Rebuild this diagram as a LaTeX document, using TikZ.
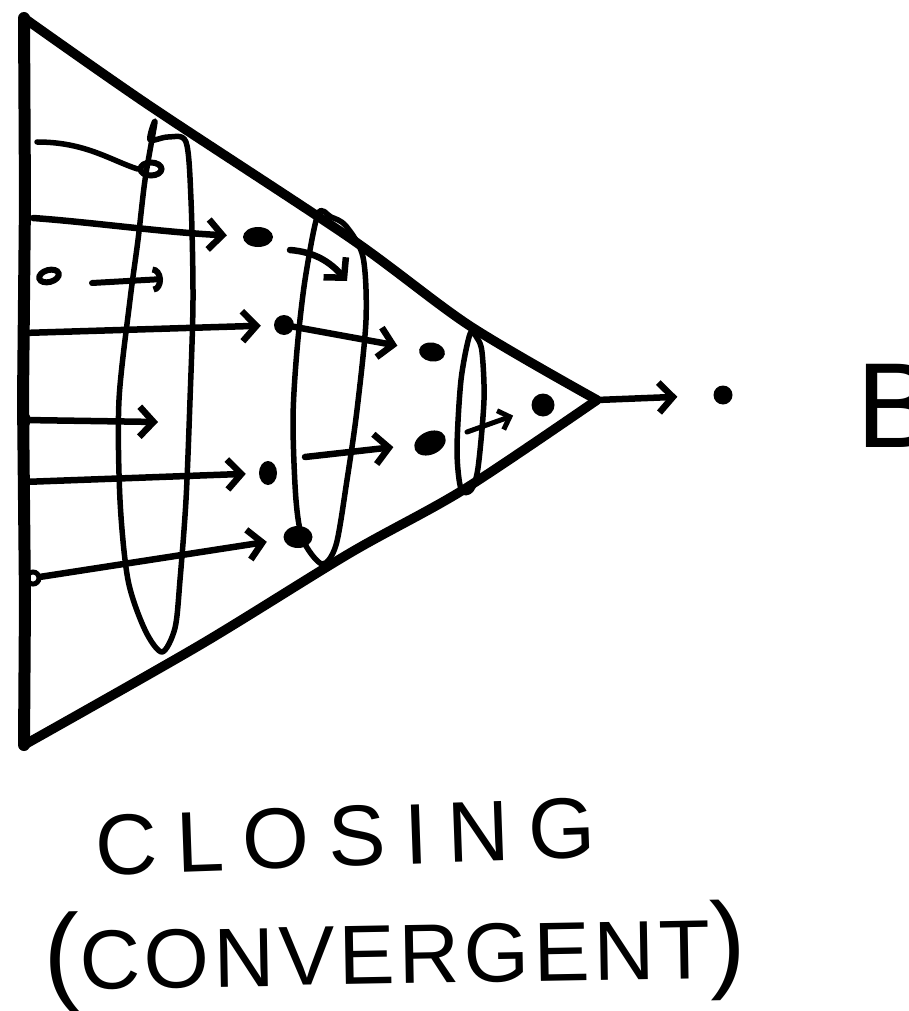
\documentclass[tikz,border=0pt]{standalone}
\usepackage{fontspec}
\setmainfont{Liberation Sans}
\newfontfamily\handwide[LetterSpace=22]{Liberation Sans}
\newfontfamily\handnarrow[LetterSpace=5]{Liberation Sans}
\usetikzlibrary{arrows.meta,shapes.geometric}
\begin{document}
\begin{tikzpicture}[x=1pt,y=-1pt,
  edge/.style={line width=9.5pt, line cap=round, line join=round},
  loopline/.style={line width=5.5pt, line join=round},
  arr/.style={line width=6.5pt, line cap=round, -{Straight Barb[length=14pt,width=30pt,line width=6.5pt]}},
  arrarc/.style={line width=6pt, line cap=round, -{Arc Barb[length=10pt,width=26pt,line width=6pt]}},
  arrsmall/.style={line width=5pt, line cap=round, -{Straight Barb[length=10pt,width=20pt,line width=5pt]}},
  dot/.style={fill, ellipse, inner sep=0pt},
  ring/.style={draw, ellipse, inner sep=0pt, line width=6pt},
  lbl/.style={inner sep=0pt, anchor=base west}]
\useasboundingbox (0,0) rectangle (908,1011);
\clip (0,0) rectangle (908,1011);
% triangle
\coordinate (TL) at (24,18);
\coordinate (BL) at (24,745);
\coordinate (A) at (597,400);
\draw[edge, line width=12pt] (TL) -- (25,200) -- (23,400) -- (25,600) -- (BL);
\draw[edge] plot[smooth] coordinates {(24,18) (150,106) (350,238) (470,326) (597,400)};
\draw[edge] plot[smooth] coordinates {(597,400) (463,490) (350,553) (200,645) (24,745)};
% loops
\draw[loopline] plot[smooth cycle] coordinates {(155,122) (145,180) (138,240) (130,300) (119,400) (120,500) (128,580) (145,630) (162,652) (175,628) (180,580) (186,500) (190,400) (193,300) (191,200) (186,142) (168,137) (150,140)};
\draw[loopline] plot[smooth cycle] coordinates {(318,214) (305,280) (297,350) (293,420) (296,500) (303,540) (322,564) (336,545) (347,480) (357,410) (366,320) (363,257) (346,226) (331,217)};
\draw[loopline] plot[smooth cycle] coordinates {(470,334) (461,380) (457,450) (461,489) (471,490) (478,468) (484,400) (482,352) (477,338)};
% dots
\node[dot, minimum width=30pt, minimum height=20pt] (d1) at (258,237) {};
\node[dot, minimum width=20pt, minimum height=20pt] (d2) at (284,325) {};
\node[dot, minimum width=26pt, minimum height=19pt, rotate=-10] (d3) at (432,352) {};
\node[dot, minimum width=18pt, minimum height=24pt] (d4) at (268,473) {};
\node[dot, minimum width=33pt, minimum height=23pt, rotate=25] (d5) at (430,443) {};
\node[dot, minimum width=29pt, minimum height=22pt] (d6) at (298,537) {};
\node[dot, minimum width=23pt, minimum height=23pt] (d7) at (543,405) {};
\node[dot, minimum width=19pt, minimum height=19pt] (d8) at (723,395) {};
\node[ring, minimum width=21pt, minimum height=13pt] (r1) at (151,169) {};
\node[ring, minimum width=20pt, minimum height=12pt, rotate=15] (l3) at (49,276) {};
\node[dot, minimum width=14pt, minimum height=16pt] (l6) at (24,420) {};
\node[ring, minimum width=12pt, minimum height=12pt, line width=5pt] (l8) at (33,578) {};
% coordinates
\coordinate (s1) at (37,142);
\coordinate (s2) at (33,218);
\coordinate (s3) at (92,283);
\coordinate (e3) at (163,279);
\coordinate (s4) at (290,250);
\coordinate (e4) at (347,281);
\coordinate (s5) at (23,333);
\coordinate (e6) at (158,422);
\coordinate (s7) at (23,482);
\coordinate (s7b) at (305,457);
\coordinate (s9) at (467,432);
% arrows
\draw[line width=5.5pt, line cap=round] (s1) .. controls (85,142) and (110,160) .. (r1.west);
\draw[arr, shorten >=16pt] (s2) .. controls (90,222) and (160,232) .. (d1);
\draw[arrarc] (s3) -- (e3);
\draw[arr] (s4) .. controls (315,252) and (330,262) .. (e4);
\draw[arr, shorten >=13pt] (s5) -- (d2);
\draw[arr, shorten >=22pt] (d2) -- (d3);
\draw[arr] (l6) -- (e6);
\draw[arr, shorten >=13pt] (s7) -- (d4);
\draw[arr, shorten >=21pt] (s7b) -- (d5);
\draw[arr, shorten >=17pt] (l8) -- (d6);
\draw[arrsmall, shorten >=20pt] (s9) -- (d7);
\draw[arr, shorten >=36pt] (A) -- (d8);
% labels
\node[lbl, font=\fontsize{121}{121}\selectfont] (B) at (856,447) {B};
\node[lbl, font=\handwide\fontsize{86}{86}\selectfont, rotate=2] (t1) at (96,875) {CLOSING};
\node[lbl, font=\handnarrow\fontsize{84}{84}\selectfont, rotate=1] (t2) at (44,990) {{\fontsize{108}{108}\selectfont(}CONVERGENT{\fontsize{108}{108}\selectfont)}};
\end{tikzpicture}
\end{document}
